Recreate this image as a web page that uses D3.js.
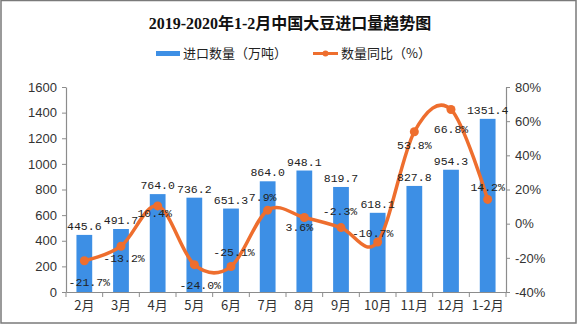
<!DOCTYPE html>
<html><head><meta charset="utf-8">
<script src="https://cdn.jsdelivr.net/npm/d3@7"></script>
<style>
html,body{margin:0;padding:0;background:#fff;}
svg{display:block;}
</style></head>
<body>
<svg id="chart" width="580" height="327"></svg>
<script>
const title = "2019-2020年1-2月中国大豆进口量趋势图";
const categories = ["2月","3月","4月","5月","6月","7月","8月","9月","10月","11月","12月","1-2月"];
const importVolume = [445.6, 491.7, 764.0, 736.2, 651.3, 864.0, 948.1, 819.7, 618.1, 827.8, 954.3, 1351.4];
const yoyPct = [-21.7, -13.2, 10.4, -24.0, -25.1, 7.9, 3.6, -2.3, -10.7, 53.8, 66.8, 14.2];
const leftTicks = [0, 200, 400, 600, 800, 1000, 1200, 1400, 1600];
const rightTicks = [-40, -20, 0, 20, 40, 60, 80];
const seriesNames = ["进口数量（万吨）", "数量同比（%）"];

// layout (not data)
const pctLabelDy = [21, 12, 7, 20, -15, -13, 9, -17, -9, 13, 19, -12];
const pctLabelDx = [5, 3, -3, 6, 3, -5, -5, -1, -5, 0, 0, 0];
const barColor = "#3d8fe5", lineColor = "#ee6e2e", axisColor = "#8c8c8c";
const L = 66, R = 506, T = 87, B = 292;

const svg = d3.select("#chart");

// frame
svg.append("rect").attr("x", 1).attr("y", 0.5).attr("width", 575).attr("height", 322.5)
  .attr("fill", "#fff").attr("stroke", "#7a7a7a").attr("stroke-width", 1.5);

// title
svg.append("text").attr("x", 290).attr("y", 29).attr("text-anchor", "middle")
  .attr("font-family", "'Liberation Serif','Noto Sans CJK SC',serif").attr("font-weight", "bold")
  .attr("font-size", 16).attr("fill", "#111").text(title);

const x = d3.scaleBand().domain(categories).range([L, R]).padding(0);
const yL = d3.scaleLinear().domain([0, 1600]).range([B, T]);
const yR = d3.scaleLinear().domain([-40, 80]).range([B, T]);
const bw = x.bandwidth() * 0.43;
const cx = c => x(c) + x.bandwidth() / 2;

// bars
svg.append("g").selectAll("rect").data(categories).join("rect")
  .attr("x", (c) => cx(c) - bw / 2)
  .attr("y", (c, i) => yL(importVolume[i]))
  .attr("width", bw)
  .attr("height", (c, i) => B - yL(importVolume[i]))
  .attr("fill", barColor);

// axes
const tickFont = "'Liberation Sans',Arial,sans-serif";
const gL = svg.append("g").attr("transform", `translate(${L},0)`)
  .call(d3.axisLeft(yL).tickValues(leftTicks).tickFormat(d3.format("d")).tickSize(4).tickSizeOuter(0).tickPadding(5));
const gR = svg.append("g").attr("transform", `translate(${R},0)`)
  .call(d3.axisRight(yR).tickValues(rightTicks).tickFormat(d => d + "%").tickSize(4).tickSizeOuter(0).tickPadding(5));
const gX = svg.append("g").attr("transform", `translate(0,${B})`)
  .call(d3.axisBottom(x).tickSize(0).tickSizeOuter(0).tickPadding(9));
// band boundary ticks
gX.selectAll("line.bt").data(categories.concat([null])).join("line").attr("class", "bt")
  .attr("x1", (c, i) => L + i * x.step()).attr("x2", (c, i) => L + i * x.step())
  .attr("y1", 0).attr("y2", 5).attr("stroke", axisColor);
[gL, gR, gX].forEach(g => {
  g.selectAll(".domain").attr("stroke", axisColor).attr("stroke-width", 1.2);
  g.selectAll(".tick line").attr("stroke", axisColor);
  g.selectAll("text").attr("font-family", tickFont + ",'Noto Sans CJK SC'").attr("font-size", 13).attr("fill", "#333");
});
gX.selectAll("text").attr("font-family", "'Noto Sans CJK SC',sans-serif").attr("font-size", 13);

// line
const line = d3.line().x((d, i) => cx(categories[i])).y(d => yR(d)).curve(d3.curveCardinal.tension(0));
svg.append("path").datum(yoyPct).attr("d", line).attr("fill", "none")
  .attr("stroke", lineColor).attr("stroke-width", 3.5).attr("stroke-linejoin", "round");
svg.append("g").selectAll("circle").data(yoyPct).join("circle")
  .attr("cx", (d, i) => cx(categories[i])).attr("cy", d => yR(d)).attr("r", 4.5).attr("fill", lineColor);

// data labels
const labFont = "'Liberation Mono','DejaVu Sans Mono',monospace";
svg.append("g").selectAll("text").data(importVolume).join("text")
  .attr("x", (d, i) => cx(categories[i])).attr("y", d => yL(d) - 5)
  .attr("text-anchor", "middle").attr("font-family", labFont).attr("font-size", 11.5).attr("fill", "#222")
  .text(d => d.toFixed(1));
svg.append("g").selectAll("text").data(yoyPct).join("text")
  .attr("x", (d, i) => cx(categories[i]) + pctLabelDx[i]).attr("y", (d, i) => yR(d) + pctLabelDy[i])
  .attr("dy", "0.35em")
  .attr("text-anchor", "middle").attr("font-family", labFont).attr("font-size", 11.5).attr("fill", "#222")
  .text(d => d.toFixed(1) + "%");

// legend
const lg = svg.append("g").attr("font-family", "'Noto Sans CJK SC',sans-serif").attr("font-size", 13).attr("fill", "#222");
lg.append("rect").attr("x", 156).attr("y", 51).attr("width", 24).attr("height", 5).attr("fill", barColor);
lg.append("text").attr("x", 183).attr("y", 53.5).attr("dy", "0.35em").text(seriesNames[0]);
lg.append("line").attr("x1", 313).attr("x2", 338).attr("y1", 53.5).attr("y2", 53.5).attr("stroke", lineColor).attr("stroke-width", 3);
lg.append("circle").attr("cx", 325.5).attr("cy", 53.5).attr("r", 3).attr("fill", lineColor);
lg.append("text").attr("x", 341).attr("y", 53.5).attr("dy", "0.35em").text(seriesNames[1]);
</script>
</body></html>
